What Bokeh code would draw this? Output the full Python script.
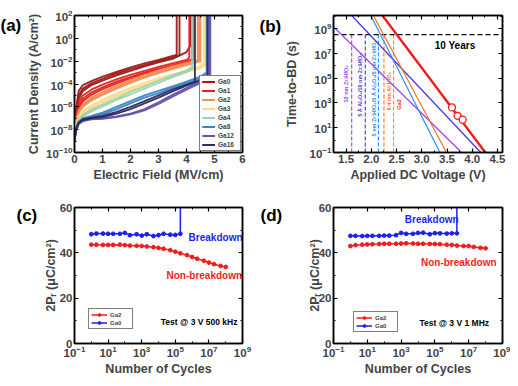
import math
from bokeh.plotting import figure
from bokeh.layouts import gridplot
from bokeh.models import (FixedTicker, LogAxis, LinearAxis, Label, Range1d,
                          PrintfTickFormatter, Legend, LegendItem)
from bokeh.core.properties import value
from bokeh.embed import file_html
from bokeh.resources import INLINE

FONT = "Liberation Sans"

# ---------------- (a) J-E curves ----------------
E_GRID = [0.0, 0.05, 0.15, 0.3, 0.6, 1.0, 1.5, 2.0, 2.5, 3.0, 3.5, 4.0, 4.5]
a_groups = ["Ga0", "Ga1", "Ga2", "Ga3", "Ga4", "Ga8", "Ga12", "Ga16"]
a_colors = ["#9E1A1A", "#E3211C", "#F58D54", "#FDD97C", "#9ED3B0", "#3A84C4", "#6650B0", "#2D2B5F"]
# each curve: (breakdown field MV/cm, log10 J at E_GRID points below breakdown, log10 J at breakdown)
a_curves = {
    "Ga0": [
        (3.65, [-8.3, -6.2, -4.6, -4.1, -3.75, -3.35, -2.95, -2.55, -2.2, -1.9, -1.55], -1.45),
        (3.75, [-8.4, -6.6, -5.0, -4.4, -3.95, -3.55, -3.1, -2.7, -2.35, -2.0, -1.7], -1.5),
        (4.15, [-8.5, -6.9, -5.3, -4.6, -4.1, -3.7, -3.25, -2.85, -2.45, -2.1, -1.8, -1.2], -0.6),
    ],
    "Ga1": [
        (4.1, [-8.5, -7.0, -5.6, -5.0, -4.5, -4.05, -3.6, -3.2, -2.85, -2.5, -2.2, -1.9], -1.7),
        (4.2, [-8.6, -7.2, -5.9, -5.3, -4.75, -4.3, -3.8, -3.4, -3.0, -2.65, -2.35, -2.05], -1.8),
        (4.25, [-8.6, -7.3, -6.1, -5.5, -4.95, -4.45, -3.95, -3.5, -3.1, -2.75, -2.45, -2.15], -1.9),
    ],
    "Ga2": [
        (4.45, [-8.6, -7.3, -6.3, -5.8, -5.2, -4.7, -4.15, -3.65, -3.2, -2.8, -2.45, -2.15], -1.9),
        (4.5, [-8.7, -7.5, -6.5, -6.0, -5.45, -4.95, -4.4, -3.9, -3.45, -3.05, -2.7, -2.35], -2.0),
        (4.4, [-8.7, -7.4, -6.4, -5.9, -5.35, -4.85, -4.3, -3.8, -3.35, -2.95, -2.6, -2.3], -2.05),
    ],
    "Ga3": [
        (4.62, [-8.7, -7.6, -6.8, -6.4, -5.9, -5.4, -4.85, -4.35, -3.9, -3.5, -3.15, -2.8, -2.45], -2.2),
        (4.7, [-8.8, -7.8, -7.0, -6.6, -6.1, -5.6, -5.05, -4.55, -4.1, -3.7, -3.3, -2.95, -2.6], -2.3),
    ],
    "Ga4": [
        (4.2, [-8.8, -7.8, -7.1, -6.7, -6.25, -5.8, -5.25, -4.7, -4.2, -3.7, -3.25, -2.8], -2.5),
        (4.28, [-8.9, -7.9, -7.2, -6.85, -6.4, -5.95, -5.4, -4.9, -4.4, -3.9, -3.4, -2.95], -2.6),
    ],
    "Ga8": [
        (4.72, [-8.9, -7.9, -7.3, -7.0, -6.8, -6.5, -6.0, -5.5, -5.0, -4.6, -4.2, -3.8, -3.35], -3.0),
        (4.8, [-9.0, -8.0, -7.4, -7.1, -6.9, -6.65, -6.2, -5.7, -5.2, -4.8, -4.35, -3.95, -3.5], -3.1),
    ],
    "Ga12": [
        (4.82, [-9.0, -8.0, -7.45, -7.2, -7.05, -7.0, -6.85, -6.6, -6.2, -5.6, -4.95, -4.35, -3.75], -3.3),
        (4.85, [-9.1, -8.1, -7.5, -7.25, -7.1, -7.05, -6.9, -6.65, -6.3, -5.75, -5.1, -4.5, -3.9], -3.4),
    ],
    "Ga16": [
        (4.75, [-9.0, -8.0, -7.4, -7.15, -7.0, -6.9, -6.6, -6.2, -5.7, -5.2, -4.65, -4.15, -3.65], -3.3),
        (4.3, [-9.0, -8.0, -7.4, -7.1, -6.95, -6.8, -6.45, -6.0, -5.5, -5.0, -4.5, -4.05], -3.8),
    ],
}

# ---------------- (b) time-to-breakdown ----------------
b_names = ["10 nm Zr:HfO\u2082", "5 \u00c5 Al\u2082O\u2083/10 nm Zr:HfO\u2082",
           "5 nm Zr:HfO\u2082/5 \u00c5 Al\u2082O\u2083/5 nm Zr:HfO\u2082", "9.4 nm Al:HfO\u2082", "Ga2"]
b_line_V = [[1.26, 3.79], [1.61, 4.17], [1.99, 3.36], [2.04, 3.49], [2.22, 4.26]]
b_line_t = [[1.25e9, 1e-1], [1.1e10, 1e-1], [1.1e10, 1e-1], [1.1e10, 1e-1], [1.1e10, 1e-1]]
b_line_colors = ["#A040F0", "#4433DD", "#2F8CF5", "#F5701F", "#F21C1C"]
b_vline_V = [1.61, 1.88, 2.14, 2.25, 2.44]
b_vline_colors = ["#A64DFF", "#5A3DF0", "#2F8FFF", "#FF7F27", "#FF8080"]
b_label_V = [1.50, 1.78, 2.06, 2.35, 2.55]
b_label_t = [3.4e4, 2.8e4, 1.5e4, 9.0e3, 7.4e2]
b_label_colors = ["#A040F0", "#5533E0", "#2F8CF5", "#F5701F", "#F23030"]
b_meas_V = [3.60, 3.71, 3.81]
b_meas_t = [4.3e2, 9.1e1, 4.4e1]
TEN_YEARS = 3.15e8

# ---------------- (c), (d) endurance ----------------
cycles = [1, 2, 5, 1e1, 2e1, 5e1, 1e2, 2e2, 5e2, 1e3, 2e3, 5e3, 1e4, 2e4, 5e4,
          1e5, 2e5, 5e5, 1e6, 2e6, 5e6, 1e7, 2e7, 5e7, 1e8]
c_ga2 = [43.6, 43.6, 43.5, 43.5, 43.5, 43.6, 43.4, 43.2, 43.1, 43.0, 42.8, 42.5, 42.2,
         41.8, 41.2, 40.5, 39.8, 39.0, 38.2, 37.4, 36.5, 35.7, 35.0, 34.2, 33.8]
c_ga0 = [48.2, 48.5, 48.5, 48.4, 48.4, 48.4, 48.8, 47.8, 48.2, 47.6, 48.2, 47.4, 47.8,
         48.4, 48.0, 47.9, 48.4]
d_ga2 = [43.0, 43.4, 43.6, 43.7, 43.8, 43.9, 44.0, 44.0, 44.0, 44.1, 44.2, 44.1, 44.0,
         44.0, 43.9, 43.9, 43.8, 43.6, 43.5, 43.2, 43.0, 43.0, 42.6, 42.2, 42.0]
d_ga0 = [47.5, 47.5, 47.4, 47.5, 47.5, 47.5, 47.6, 47.6, 47.8, 48.8, 48.4, 48.4, 48.8,
         48.9, 48.2, 48.7, 48.6, 48.5, 48.6, 48.6]
PR_TOP = 60
RED = "#F01E1E"
BLUE = "#1E1EF5"


def style_axis(ax, labels=True):
    ax.axis_line_width = 1.5
    ax.axis_line_color = "black"
    ax.major_tick_in = 4
    ax.major_tick_out = 0
    ax.minor_tick_in = 2
    ax.minor_tick_out = 0
    ax.major_tick_line_width = 1.2
    ax.minor_tick_line_width = 1
    ax.major_label_text_font = FONT
    ax.major_label_text_font_style = "bold"
    ax.major_label_text_font_size = "11.5px"
    ax.axis_label_text_font = FONT
    ax.axis_label_text_font_style = "bold"
    ax.axis_label_text_font_size = "12.5px"
    ax.major_label_standoff = 2
    ax.axis_label_standoff = 2
    if not labels:
        ax.major_label_text_font_size = "1px"
        ax.major_label_text_alpha = 0.0
        ax.major_label_standoff = 0
        ax.axis_label_standoff = 0


def make_fig(w, h, xr, yr, xlog, ylog, borders):
    l, r, t, b = borders
    p = figure(width=w, height=h, x_range=xr, y_range=yr,
               x_axis_type="log" if xlog else "linear",
               y_axis_type="log" if ylog else "linear",
               output_backend="svg", toolbar_location=None,
               min_border_left=l, min_border_right=r, min_border_top=t, min_border_bottom=b)
    p.xgrid.visible = False
    p.ygrid.visible = False
    p.outline_line_color = "black"
    p.outline_line_width = 1.5
    p.background_fill_color = "white"
    p.border_fill_color = "white"
    return p


def add_mirrors(p, xt, yt, xlog=False):
    top = (LogAxis if xlog else LinearAxis)(ticker=xt)
    right = LinearAxis(ticker=yt)
    style_axis(top, labels=False)
    style_axis(right, labels=False)
    p.add_layout(top, "above")
    p.add_layout(right, "right")


def panel_label(p, s, x, y):
    p.add_layout(Label(x=x, y=y, x_units="screen", y_units="screen", text=s,
                       text_font=FONT, text_font_style="bold", text_font_size="17px",
                       text_baseline="middle", text_align="left", text_color="black"), "left")


def txt(p, x, y, s, color, size, align="left", angle=0.0):
    p.text(x=[x], y=[y], text=[s], text_color=color, text_font=value(FONT),
           text_font_style="bold", text_font_size=size, text_align=align,
           text_baseline="middle", angle=angle)


# ======== (a) ========
pa = make_fig(259, 193, Range1d(0, 6), Range1d(1e-10, 1e2), False, True, (74, 12, 15, 40))
A_XT = [0, 1, 2, 3, 4, 5, 6]
A_XM = [0.5, 1.5, 2.5, 3.5, 4.5, 5.5]
A_YT = [1e-10, 1e-8, 1e-6, 1e-4, 1e-2, 1e0, 1e2]
A_YM = [1e-9, 1e-7, 1e-5, 1e-3, 1e-1, 1e1]
pa.xaxis.ticker = FixedTicker(ticks=A_XT, minor_ticks=A_XM)
pa.yaxis.ticker = FixedTicker(ticks=A_YT, minor_ticks=A_YM)
style_axis(pa.xaxis[0])
style_axis(pa.yaxis[0])
pa.xaxis.axis_label = "Electric Field (MV/cm)"
pa.yaxis.axis_label = "Current Density (A/cm\u00b2)"
add_mirrors(pa, FixedTicker(ticks=A_XT, minor_ticks=A_XM), FixedTicker(ticks=A_YT, minor_ticks=A_YM))
a_items = []
for g, col in zip(a_groups, a_colors):
    rs = []
    for bd, logs, bdlog in a_curves[g]:
        xs = [e for e in E_GRID if e < bd][:len(logs)] + [bd, bd]
        ys = [10 ** v for v in logs] + [10 ** bdlog, 1e3]
        rs.append(pa.line(xs, ys, line_color=col, line_width=1.9, line_alpha=0.95))
    a_items.append(LegendItem(label=g, renderers=rs))
leg_a = Legend(items=a_items, location="bottom_right", border_line_color="black",
               border_line_width=0.8, label_text_font=FONT, label_text_font_style="bold",
               label_text_font_size="6.5px", glyph_width=13, glyph_height=7, label_height=7,
               label_standoff=3, padding=2, spacing=2, margin=1,
               background_fill_alpha=1.0)
pa.add_layout(leg_a)
panel_label(pa, "(a)", -3, 127)

# ======== (b) ========
pb = make_fig(251, 193, Range1d(1.25, 4.6), Range1d(1e-1, 1.1e10), False, True, (70, 8, 15, 41))
B_XT = [1.5, 2.0, 2.5, 3.0, 3.5, 4.0, 4.5]
B_XM = [1.25, 1.75, 2.25, 2.75, 3.25, 3.75, 4.25]
B_YT = [1e-1, 1e1, 1e3, 1e5, 1e7, 1e9]
B_YM = [1e0, 1e2, 1e4, 1e6, 1e8, 1e10]
pb.xaxis.ticker = FixedTicker(ticks=B_XT, minor_ticks=B_XM)
pb.yaxis.ticker = FixedTicker(ticks=B_YT, minor_ticks=B_YM)
pb.xaxis.formatter = PrintfTickFormatter(format="%.1f")
style_axis(pb.xaxis[0])
style_axis(pb.yaxis[0])
pb.yaxis.axis_label_standoff = 8
pb.xaxis.axis_label = "Applied DC Voltage (V)"
pb.yaxis.axis_label = "Time-to-BD (s)"
add_mirrors(pb, FixedTicker(ticks=B_XT, minor_ticks=B_XM), FixedTicker(ticks=B_YT, minor_ticks=B_YM))
for vv, col in zip(b_vline_V, b_vline_colors):
    pb.line([vv, vv], [1e-1, TEN_YEARS], line_color=col, line_width=1.2, line_dash="4 2")
pb.line([1.25, 4.6], [TEN_YEARS, TEN_YEARS], line_color="black", line_width=1.2, line_dash="5 3")
for i, (vs, ts, col) in enumerate(zip(b_line_V, b_line_t, b_line_colors)):
    pb.line(vs, ts, line_color=col, line_width=2.4 if i == 4 else 1.2)
pb.scatter(b_meas_V, b_meas_t, marker="circle", size=7, fill_color="white",
           line_color="#F21C1C", line_width=1.3)
for vv, tt, s, col in zip(b_label_V, b_label_t, b_names, b_label_colors):
    txt(pb, vv, tt, s, col, "5.5px", align="center", angle=math.pi / 2)
txt(pb, 3.66, 4.1e7, "10 Years", "black", "10px", align="center")
panel_label(pb, "(b)", 0, 126)

# ======== (c) & (d) ========
C_XT = [1e-1, 1e1, 1e3, 1e5, 1e7, 1e9]
C_XM = [1e0, 1e2, 1e4, 1e6, 1e8]
C_YT = [0, 20, 40, 60]
C_YM = [10, 30, 50]


def endurance(w, borders, ga0, ga2, test_text, bd_xy, nb_xy, test_xy, leg_loc, lab, lab_xy, ylab_off):
    p = make_fig(w, 185, Range1d(1e-1, 1e9), Range1d(0, PR_TOP), True, False, borders)
    p.xaxis.ticker = FixedTicker(ticks=C_XT, minor_ticks=C_XM)
    p.yaxis.ticker = FixedTicker(ticks=C_YT, minor_ticks=C_YM)
    style_axis(p.xaxis[0])
    style_axis(p.yaxis[0])
    p.yaxis.axis_label_standoff = ylab_off
    p.xaxis.axis_label = "Number of Cycles"
    p.yaxis.axis_label = "2P\u1d63 (\u03bcC/cm\u00b2)"
    add_mirrors(p, FixedTicker(ticks=C_XT, minor_ticks=C_XM),
                FixedTicker(ticks=C_YT, minor_ticks=C_YM), xlog=True)
    n0 = len(ga0)
    r2l = p.line(cycles[:len(ga2)], ga2, line_color=RED, line_width=1.5)
    r2s = p.scatter(cycles[:len(ga2)], ga2, marker="circle", size=3.8, color=RED)
    r0l = p.line(cycles[:n0], ga0, line_color=BLUE, line_width=1.5)
    r0s = p.scatter(cycles[:n0], ga0, marker="circle", size=3.8, color=BLUE)
    p.line([cycles[n0 - 1], cycles[n0 - 1]], [ga0[-1], PR_TOP], line_color=BLUE, line_width=1.5)
    leg = Legend(items=[LegendItem(label="Ga2", renderers=[r2l, r2s]),
                        LegendItem(label="Ga0", renderers=[r0l, r0s])],
                 location=leg_loc, border_line_color="black", border_line_width=0.8,
                 label_text_font=FONT, label_text_font_style="bold", label_text_font_size="6px",
                 glyph_width=16, glyph_height=7, label_height=7, label_standoff=3,
                 padding=2, spacing=1, margin=0)
    p.add_layout(leg)
    txt(p, bd_xy[0], bd_xy[1], "Breakdown", BLUE, "10px")
    txt(p, nb_xy[0], nb_xy[1], "Non-breakdown", RED, "10px")
    txt(p, test_xy[0], test_xy[1], test_text, "black", "8.5px", align="right")
    panel_label(p, lab, lab_xy[0], lab_xy[1])
    return p


pc = endurance(259, (74, 17, 14, 35), c_ga0, c_ga2, "Test @ 3 V 500 kHz",
               (6.2e5, 46.7), (3.0e4, 30.0), (5.0e8, 9.3), (14, 14), "(c)", (-3, 128), -1)
pd = endurance(251, (63, 8, 12, 35), d_ga0, d_ga2, "Test @ 3 V 1 MHz",
               (1.66e3, 54.8), (1.5e4, 35.7), (1.6e8, 9.1), (20, 11), "(d)", (-22, 128), -6)

grid = gridplot([[pa, pb], [pc, pd]], toolbar_location=None)
open("out.html", "w").write(file_html(grid, INLINE))
